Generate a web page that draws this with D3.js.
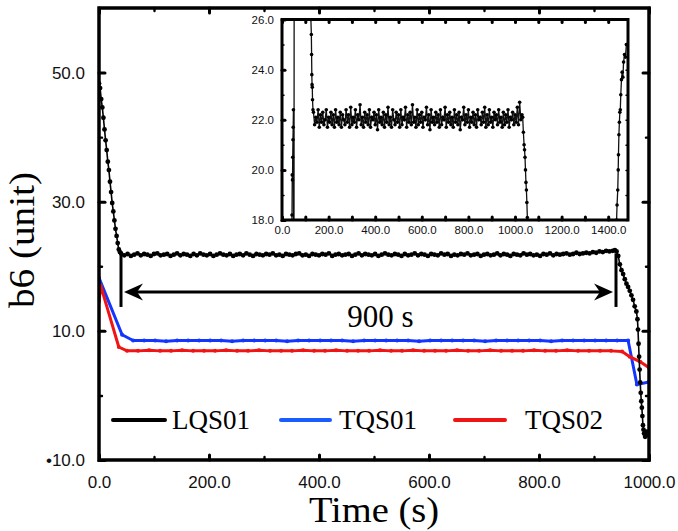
<!DOCTYPE html>
<html>
<head>
<meta charset="utf-8">
<script src="https://cdn.jsdelivr.net/npm/d3@7"></script>
<style>
  body { margin: 0; background: #fff; }
  .tick text { font-family: "Liberation Sans", Arial, sans-serif; fill: #111; }
</style>
</head>
<body>
<div id="chart"></div>
<script>
// ---------------- data ----------------
// LQS01, main plot: descent, plateau (every 6 s from t=40), end drop
const lqsHeadT = [0, 2, 4, 6, 8, 10, 12, 14, 16, 18, 20, 22, 24, 26, 28, 30, 32, 34, 36, 38];
const lqsHeadV = [48.3, 47.6, 45.9, 44.6, 43.0, 41.2, 39.5, 38.0, 36.2, 34.9, 33.1, 31.5, 29.8, 28.5, 27.1, 25.8, 24.7, 23.6, 22.6, 22.2];
const lqsPlateauStart = 40, lqsPlateauStep = 6;
const lqsPlateauV = [
  22.0, 21.7, 21.9, 21.6, 21.8, 22.0, 21.7, 21.9, 21.8, 21.6, 21.9, 22.0, 21.7, 21.8, 21.9,
  21.6, 21.8, 22.0, 21.7, 21.9, 21.8, 21.6, 21.9, 21.7, 22.0, 21.8, 21.7, 21.9, 21.6, 21.8,
  22.0, 21.8, 21.7, 21.9, 21.6, 21.8, 21.9, 21.7, 22.0, 21.8, 21.6, 21.9, 21.8, 21.7, 21.9,
  21.8, 22.0, 21.7, 21.8, 21.6, 21.9, 21.8, 21.7, 21.9, 22.0, 21.7, 21.8, 21.6, 21.9, 21.8,
  21.7, 21.9, 21.8, 22.0, 21.6, 21.8, 21.9, 21.7, 21.8, 21.9, 21.6, 21.8, 22.0, 21.7, 21.9,
  21.8, 21.7, 21.9, 21.6, 21.8, 22.0, 21.8, 21.7, 21.9, 21.8, 21.6, 21.9, 21.7, 21.8, 22.0,
  21.7, 21.9, 21.8, 21.6, 21.9, 21.8, 21.7, 22.0, 21.8, 21.9, 21.6, 21.8, 21.7, 21.9, 21.8,
  22.0, 21.7, 21.8, 21.9, 21.6, 21.8, 21.9, 21.7, 21.8, 22.0, 21.7, 21.9, 21.8, 21.6, 21.9,
  21.8, 21.7, 22.0, 21.8, 21.9, 21.7, 21.8, 21.6, 21.9, 21.8, 22.0, 21.7, 21.9, 21.8, 21.9,
  22.0, 21.8, 21.9, 22.1, 21.9, 22.0, 22.1, 22.0, 22.2, 22.1, 22.3, 22.2, 22.4, 22.3, 22.4
];
const lqsTailT = [938, 941, 944, 947, 950, 953, 956, 959, 962, 965, 968, 971, 974, 977, 979, 980, 981, 982, 983, 984, 985, 986, 987, 988, 989, 990, 991, 993, 995, 996];
const lqsTailV = [22.5, 22.3, 21.6, 20.3, 19.4, 18.8, 18.0, 17.3, 16.8, 16.2, 15.5, 14.8, 13.8, 13.0, 11.8, 10.2, 8.0, 6.0, 4.0, 2.0, 0.4, -0.9, -1.9, -3.2, -4.6, -5.3, -5.9, -6.4, -6.2, -5.6];

// TQS01 (blue) and TQS02 (red)
const tqs01T = [0, 42, 62, 82, 102, 122, 142, 162, 182, 202, 222, 242, 262, 282, 302, 322, 342, 362, 382, 402,
  422, 442, 462, 482, 502, 522, 542, 562, 582, 602, 622, 642, 662, 682, 702, 722, 742, 762, 782, 802,
  822, 842, 862, 882, 902, 922, 942, 962, 978, 1000];
const tqs01V = [18.2, 9.4, 8.5, 8.5, 8.5, 8.4, 8.5, 8.5, 8.5, 8.5, 8.5, 8.4, 8.5, 8.5, 8.5, 8.5, 8.4, 8.5, 8.5, 8.5,
  8.5, 8.5, 8.4, 8.5, 8.5, 8.5, 8.5, 8.5, 8.4, 8.5, 8.5, 8.5, 8.5, 8.5, 8.4, 8.5, 8.5, 8.5, 8.5, 8.5,
  8.4, 8.5, 8.5, 8.5, 8.5, 8.5, 8.5, 8.5, 1.7, 2.1];
const tqs02T = [0, 3, 36, 51, 71, 91, 111, 131, 151, 171, 191, 211, 231, 251, 271, 291, 311, 331, 351, 371,
  391, 411, 431, 451, 471, 491, 511, 531, 551, 571, 591, 611, 631, 651, 671, 691, 711, 731, 751, 771,
  791, 811, 831, 851, 871, 891, 911, 931, 951, 965, 984, 1000];
const tqs02V = [14.5, 17.0, 7.5, 6.9, 6.9, 7.0, 6.9, 6.9, 7.0, 6.9, 6.9, 6.9, 7.0, 6.9, 6.9, 7.0, 6.9, 6.9, 6.9, 7.0,
  6.9, 6.9, 7.0, 6.9, 6.9, 6.9, 7.0, 6.9, 6.9, 7.0, 6.9, 6.9, 6.9, 7.0, 6.9, 6.9, 7.0, 6.9, 6.9, 6.9,
  7.0, 6.9, 6.9, 7.0, 6.9, 6.9, 6.9, 6.9, 6.8, 6.0, 5.2, 4.3];

// Inset (LQS01 on a longer run, zoomed on 18..26)
const insetHeadT = [36, 40, 43, 44, 45, 46, 47, 48, 49, 51, 53, 60, 80, 100, 118, 124, 126, 127, 128, 129, 130, 131, 133];
const insetHeadV = [10, 16.5, 18.2, 19.8, 19.6, 20.5, 21.2, 21.7, 22.4, 10, 40, 34, 32, 30, 28, 26.0, 25.4, 24.6, 23.8, 23.4, 23.3, 22.8, 22.4];
const insetPlateauStart = 135, insetPlateauStep = 5;
const insetPlateauV = [
  22.3, 21.8, 22.1, 21.9, 22.4, 21.7, 22.2, 21.9, 22.3, 21.8, 22.0, 22.4, 21.7, 22.1, 21.9,
  22.3, 21.8, 22.2, 21.7, 22.4, 21.9, 22.1, 21.8, 22.3, 21.7, 22.2, 22.0, 21.8, 22.4, 21.9,
  22.2, 21.7, 22.5, 21.8, 22.1, 21.9, 22.4, 21.7, 22.2, 22.0, 22.6, 21.8, 22.1, 21.7, 22.3,
  21.9, 22.2, 21.8, 22.4, 21.7, 22.1, 22.0, 22.3, 21.8, 22.2, 21.6, 22.4, 21.9, 22.1, 21.8,
  22.3, 21.7, 22.2, 21.9, 22.5, 21.8, 22.1, 21.7, 22.4, 22.0, 21.8, 22.3, 21.9, 22.2, 21.7,
  22.4, 21.8, 22.1, 22.0, 22.5, 21.7, 22.2, 21.9, 22.3, 21.8, 22.6, 21.9, 22.1, 21.7, 22.4,
  21.8, 22.2, 21.9, 22.3, 21.7, 22.1, 22.0, 22.5, 21.8, 22.2, 21.6, 22.4, 21.9, 22.1, 21.8,
  22.3, 21.9, 22.2, 21.7, 22.4, 21.8, 22.1, 22.0, 22.5, 21.7, 22.2, 21.9, 22.3, 21.8, 22.1,
  21.7, 22.4, 21.9, 22.2, 21.8, 22.3, 21.6, 22.1, 22.0, 22.5, 21.8, 22.2, 21.9, 22.4, 21.7,
  22.1, 21.9, 22.3, 21.8, 22.2, 21.7, 22.4, 22.0, 22.1, 21.8, 22.3, 21.9, 22.5, 21.7, 22.2,
  21.8, 22.4, 21.9, 22.1, 21.7, 22.3, 22.0, 22.2, 21.8, 22.4, 21.9, 22.1, 21.7, 22.3, 21.8,
  22.2, 21.9, 22.4, 21.7, 22.1, 22.0, 22.3, 21.8, 22.2, 21.9, 22.5, 21.8, 22.7, 22.0, 22.2
];
const insetTailT = [1033, 1036, 1039, 1041, 1043, 1045, 1047, 1049, 1051, 1053, 1056, 1100, 1300, 1420, 1436, 1438, 1441, 1443,
  1444, 1446, 1448, 1450, 1452, 1454, 1457, 1460, 1463, 1466, 1470, 1474, 1478, 1481];
const insetTailV = [22.1, 21.5, 21.0, 20.8, 20.5, 20.0, 19.5, 19.2, 18.7, 18.1, 17.0, 10, 10, 14, 18.0, 18.6, 19.2, 20.0,
  20.6, 21.4, 21.9, 22.3, 22.4, 23.0, 23.6, 23.9, 23.7, 24.3, 24.6, 24.5, 25.0, 25.0];

// axis ticks and labels
const xMajor = [0, 200, 400, 600, 800, 1000];
const xMinor = [100, 300, 500, 700, 900];
const yMajor = [-10, 10, 30, 50];
const yMinor = [0, 20, 40];
const insetXMajor = [0, 200, 400, 600, 800, 1000, 1200, 1400];
const insetXMinor = [100, 300, 500, 700, 900, 1100, 1300];
const insetYMajor = [18, 20, 22, 24, 26];
const insetYMinor = [19, 21, 23, 25];

const seriesNames = ["LQS01", "TQS01", "TQS02"];
const seriesColors = ["#000000", "#1236ff", "#f01414"];

// annotation: the 900 s span
const spanStart = 40, spanEnd = 940, spanArrowV = 16, spanTopV = 22, spanBottomV = 13.7;
const spanLabel = "900 s";

// ---------------- build point lists ----------------
const zipPts = (ts, vs) => d3.zip(ts, vs).map(([t, v]) => ({ t, v }));
const plateauPts = (start, step, vs) => vs.map((v, i) => ({ t: start + i * step, v }));

const lqs = zipPts(lqsHeadT, lqsHeadV)
  .concat(plateauPts(lqsPlateauStart, lqsPlateauStep, lqsPlateauV))
  .concat(zipPts(lqsTailT, lqsTailV));
const tqs01 = zipPts(tqs01T, tqs01V);
const tqs02 = zipPts(tqs02T, tqs02V);
const inset = zipPts(insetHeadT, insetHeadV)
  .concat(plateauPts(insetPlateauStart, insetPlateauStep, insetPlateauV))
  .concat(zipPts(insetTailT, insetTailV));

// ---------------- layout ----------------
const W = 678, H = 531;
const margin = { top: 8, right: 29, bottom: 71, left: 99 },
    width = W - margin.left - margin.right,
    height = H - margin.top - margin.bottom;
const serif = "'Liberation Serif', 'Times New Roman', serif";

const svg = d3.select("#chart").append("svg")
    .attr("width", W)
    .attr("height", H);

const g = svg.append("g")
    .attr("transform", "translate(" + margin.left + "," + margin.top + ")");

const x = d3.scaleLinear().domain([0, 1000]).range([0, width]);
const y = d3.scaleLinear().domain([-10, 60]).range([height, 0]);

const fmt = d3.format(".1f");
const yFmt = d => d < 0 ? "\u2022" + fmt(-d) : fmt(d);

// clip for the data
g.append("clipPath").attr("id", "clipMain")
  .append("rect").attr("width", width).attr("height", height);

// axes: inward ticks on all four sides
function styleAxis(sel, major) {
  sel.select(".domain").remove();
  sel.selectAll(".tick line")
    .attr("stroke", "#000")
    .attr("stroke-width", major ? 3 : 2.4)
    .attr("stroke-linecap", "round");
}

g.append("g").attr("transform", "translate(0," + height + ")")
  .call(d3.axisBottom(x).tickValues(xMajor).tickSize(-5).tickPadding(16).tickFormat(fmt))
  .call(s => styleAxis(s, true))
  .selectAll("text").attr("font-size", 17);
g.append("g").attr("transform", "translate(0," + height + ")")
  .call(d3.axisBottom(x).tickValues(xMinor).tickSize(-3).tickFormat(""))
  .call(s => styleAxis(s, false));
g.append("g")
  .call(d3.axisTop(x).tickValues(xMajor).tickSize(-5).tickFormat(""))
  .call(s => styleAxis(s, true));
g.append("g")
  .call(d3.axisTop(x).tickValues(xMinor).tickSize(-3).tickFormat(""))
  .call(s => styleAxis(s, false));

g.append("g")
  .call(d3.axisLeft(y).tickValues(yMajor).tickSize(-6).tickPadding(14).tickFormat(yFmt))
  .call(s => styleAxis(s, true))
  .selectAll("text").attr("font-size", 17);
g.append("g")
  .call(d3.axisLeft(y).tickValues(yMinor).tickSize(-3).tickFormat(""))
  .call(s => styleAxis(s, false));
g.append("g").attr("transform", "translate(" + width + ",0)")
  .call(d3.axisRight(y).tickValues(yMajor).tickSize(-6).tickFormat(""))
  .call(s => styleAxis(s, true));
g.append("g").attr("transform", "translate(" + width + ",0)")
  .call(d3.axisRight(y).tickValues(yMinor).tickSize(-3).tickFormat(""))
  .call(s => styleAxis(s, false));

// ---------------- series ----------------
const line = d3.line().x(d => x(d.t)).y(d => y(d.v));
const plot = g.append("g").attr("clip-path", "url(#clipMain)");

[[tqs01, seriesColors[1]], [tqs02, seriesColors[2]]].forEach(([pts, col]) => {
  plot.append("path").datum(pts)
    .attr("fill", "none").attr("stroke", col)
    .attr("stroke-width", 3).attr("stroke-linejoin", "round")
    .attr("d", line);
  plot.selectAll(null).data(pts).enter().append("circle")
    .attr("cx", d => x(d.t)).attr("cy", d => y(d.v)).attr("r", 2)
    .attr("fill", col);
});

plot.append("path").datum(lqs)
  .attr("fill", "none").attr("stroke", "#000").attr("stroke-width", 1.6)
  .attr("d", line);
plot.selectAll(null).data(lqs).enter().append("circle")
  .attr("cx", d => x(d.t)).attr("cy", d => y(d.v)).attr("r", 2.4)
  .attr("fill", "#000");

// ---------------- 900 s annotation ----------------
const ann = g.append("g").attr("stroke", "#000").attr("fill", "#000");
[spanStart, spanEnd].forEach(t => {
  ann.append("line")
    .attr("x1", x(t)).attr("x2", x(t))
    .attr("y1", y(spanTopV)).attr("y2", y(spanBottomV))
    .attr("stroke-width", 3);
});
const ax0 = x(spanStart) + 3, ax1 = x(spanEnd) - 3, ay = y(spanArrowV);
ann.append("line")
  .attr("x1", ax0 + 10).attr("x2", ax1 - 10)
  .attr("y1", ay).attr("y2", ay)
  .attr("stroke-width", 3);
function arrowHead(tipX, dir) {
  return `M${tipX},${ay} L${tipX + dir * 19},${ay - 8.5} L${tipX + dir * 13},${ay} L${tipX + dir * 19},${ay + 8.5} Z`;
}
ann.append("path").attr("d", arrowHead(ax0, 1)).attr("stroke", "none");
ann.append("path").attr("d", arrowHead(ax1, -1)).attr("stroke", "none");

g.append("text")
  .attr("x", x((spanStart + spanEnd) / 2) + 12).attr("y", y(spanArrowV) + 35)
  .attr("text-anchor", "middle")
  .attr("font-family", serif)
  .attr("font-size", 31)
  .text(spanLabel);

// ---------------- legend ----------------
const legendY = 412;
const legendItems = [
  { x1: 14, x2: 66, tx: 73 },
  { x1: 182, x2: 231, tx: 240 },
  { x1: 356, x2: 406, tx: 426 }
];
const legend = g.append("g");
legendItems.forEach((it, i) => {
  legend.append("line")
    .attr("x1", it.x1).attr("x2", it.x2)
    .attr("y1", legendY).attr("y2", legendY)
    .attr("stroke", i === 1 ? "#1a5cff" : seriesColors[i])
    .attr("stroke-width", 4).attr("stroke-linecap", "round");
  legend.append("text")
    .attr("x", it.tx).attr("y", legendY + 9)
    .attr("font-family", serif)
    .attr("font-size", 27)
    .text(seriesNames[i]);
});

// ---------------- frame ----------------
g.append("rect")
  .attr("width", width).attr("height", height)
  .attr("fill", "none").attr("stroke", "#000").attr("stroke-width", 3.5);

// ---------------- axis titles ----------------
svg.append("text")
  .attr("transform", "translate(" + (margin.left + width / 2) + ",522) scale(1.1,1)")
  .attr("text-anchor", "middle")
  .attr("font-family", serif)
  .attr("font-size", 35)
  .text("Time (s)");
svg.append("text")
  .attr("transform", "translate(34,240) rotate(-90) scale(1.12,1)")
  .attr("text-anchor", "middle")
  .attr("font-family", serif)
  .attr("font-size", 35)
  .text("b6 (unit)");

// ---------------- inset ----------------
const inL = 282, inT = 19.5, inR = 628, inB = 220;
const ix = d3.scaleLinear().domain([0, 1485]).range([0, inR - inL]);
const iy = d3.scaleLinear().domain([18, 26]).range([inB - inT, 0]);
const ig = svg.append("g").attr("transform", "translate(" + inL + "," + inT + ")");
const iw = inR - inL, ih = inB - inT;

ig.append("rect").attr("width", iw).attr("height", ih).attr("fill", "#fff");
ig.append("clipPath").attr("id", "clipInset")
  .append("rect").attr("width", iw).attr("height", ih);

function styleInset(sel) {
  sel.select(".domain").remove();
  sel.selectAll(".tick line").attr("stroke", "#000").attr("stroke-width", 3).attr("stroke-linecap", "round");
  sel.selectAll(".tick text").attr("font-size", 11.5);
}
ig.append("g").attr("transform", "translate(0," + ih + ")")
  .call(d3.axisBottom(ix).tickValues(insetXMajor).tickSize(-3).tickPadding(6).tickFormat(fmt))
  .call(styleInset);
ig.append("g").attr("transform", "translate(0," + ih + ")")
  .call(d3.axisBottom(ix).tickValues(insetXMinor).tickSize(-3).tickFormat(""))
  .call(styleInset);
ig.append("g")
  .call(d3.axisTop(ix).tickValues(insetXMajor.concat(insetXMinor)).tickSize(-3).tickFormat(""))
  .call(styleInset);
ig.append("g")
  .call(d3.axisLeft(iy).tickValues(insetYMajor).tickSize(-3).tickPadding(8).tickFormat(fmt))
  .call(styleInset);
ig.append("g")
  .call(d3.axisLeft(iy).tickValues(insetYMinor).tickSize(-2).tickFormat(""))
  .call(s => { styleInset(s); s.selectAll(".tick line").attr("stroke-width", 1.5); });
ig.append("g").attr("transform", "translate(" + iw + ",0)")
  .call(d3.axisRight(iy).tickValues(insetYMajor.concat(insetYMinor)).tickSize(-2).tickFormat(""))
  .call(s => { styleInset(s); s.selectAll(".tick line").attr("stroke-width", 1.5); });

const iline = d3.line().x(d => ix(d.t)).y(d => iy(d.v));
const iplot = ig.append("g").attr("clip-path", "url(#clipInset)");
iplot.append("path").datum(inset)
  .attr("fill", "none").attr("stroke", "#111").attr("stroke-width", 1.3)
  .attr("d", iline);
iplot.selectAll(null).data(inset).enter().append("circle")
  .attr("cx", d => ix(d.t)).attr("cy", d => iy(d.v)).attr("r", 1.8)
  .attr("fill", "#000");

ig.append("rect")
  .attr("width", iw).attr("height", ih)
  .attr("fill", "none").attr("stroke", "#000").attr("stroke-width", 3);
</script>
</body>
</html>
